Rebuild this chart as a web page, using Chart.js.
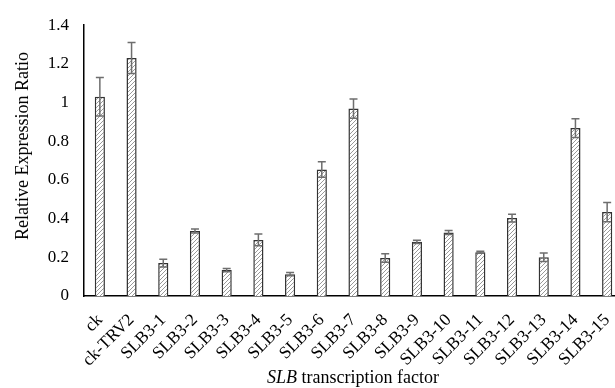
<!DOCTYPE html>
<html>
<head>
<meta charset="utf-8">
<script src="https://cdn.jsdelivr.net/npm/chart.js@4.4.1/dist/chart.umd.min.js"></script>
<style>
  html, body { margin:0; padding:0; background:#fff; overflow:hidden; width:615px; height:388px; }
  #wrap { position:relative; width:636px; height:388px; }
  .ttl { position:absolute; font:18px "Liberation Serif", "Times New Roman", serif; color:#000; white-space:nowrap; line-height:20px; }
  #xtitle { left:267px; top:367px; }
  #ytitle { left:22px; top:146px; transform:translate(-50%,-50%) rotate(-90deg); }
</style>
</head>
<body>
<div id="wrap">
  <canvas id="chart"></canvas>
  <div class="ttl" id="xtitle"><i>SLB</i> transcription factor</div>
  <div class="ttl" id="ytitle">Relative Expression Ratio</div>
</div>
<script>
const categories = ['ck','ck-TRV2','SLB3-1','SLB3-2','SLB3-3','SLB3-4','SLB3-5','SLB3-6','SLB3-7','SLB3-8','SLB3-9','SLB3-10','SLB3-11','SLB3-12','SLB3-13','SLB3-14','SLB3-15'];
const ratio  = [1.03, 1.23, 0.17, 0.336, 0.134, 0.29, 0.113, 0.654, 0.969, 0.197, 0.28, 0.328, 0.226, 0.403, 0.2, 0.868, 0.434];
const errors = [0.10, 0.08, 0.02, 0.01, 0.008, 0.03, 0.008, 0.04, 0.05, 0.022, 0.008, 0.01, 0.005, 0.02, 0.022, 0.048, 0.05];
const yTicks = ['0','0.2','0.4','0.6','0.8','1','1.2','1.4'];

// diagonal hatch fill
function hatch(){
  const c = document.createElement('canvas'); c.width = 4; c.height = 4;
  const g = c.getContext('2d');
  g.fillStyle = '#fff'; g.fillRect(0,0,4,4);
  g.strokeStyle = '#999'; g.lineWidth = 1;
  g.beginPath();
  g.moveTo(0,4); g.lineTo(4,0);
  g.moveTo(-1,1); g.lineTo(1,-1);
  g.moveTo(3,5); g.lineTo(5,3);
  g.stroke();
  return g.createPattern(c, 'repeat');
}

const errorBars = {
  id: 'errorBars',
  afterDatasetsDraw(chart){
    const ctx = chart.ctx, y = chart.scales.y;
    const meta = chart.getDatasetMeta(0);
    ctx.save();
    ctx.strokeStyle = '#6e6e6e'; ctx.lineWidth = 1.5;
    meta.data.forEach((bar, i) => {
      const top = y.getPixelForValue(ratio[i] + errors[i]);
      const bot = y.getPixelForValue(ratio[i] - errors[i]);
      ctx.beginPath();
      ctx.moveTo(bar.x, top); ctx.lineTo(bar.x, bot);
      ctx.moveTo(bar.x - 4, top); ctx.lineTo(bar.x + 4, top);
      ctx.moveTo(bar.x - 4, bot); ctx.lineTo(bar.x + 4, bot);
      ctx.stroke();
    });
    ctx.restore();
  }
};

const serif = '"Liberation Serif", "Times New Roman", serif';

new Chart(document.getElementById('chart'), {
  type: 'bar',
  data: { labels: categories, datasets: [{
    data: ratio,
    backgroundColor: hatch(),
    borderColor: '#333',
    borderWidth: 1.5,
    barPercentage: 0.32,
    categoryPercentage: 1
  }]},
  options: {
    responsive: true, maintainAspectRatio: false, animation: false,
    layout: { padding: { top: 23, left: 0, right: 0, bottom: 0 } },
    plugins: { legend: { display: false }, tooltip: { enabled: false } },
    scales: {
      x: {
        grid: { display: false, drawTicks: false },
        border: { display: true, color: '#000', width: 1.5 },
        ticks: { color: '#000', font: { family: serif, size: 17.5 }, maxRotation: 45, minRotation: 45, padding: 14, autoSkip: false },
        afterFit: s => { s.height = 92; }
      },
      y: {
        min: 0, max: 1.4,
        grid: { display: false, drawTicks: false },
        border: { display: true, color: '#000', width: 1.5 },
        ticks: { stepSize: 0.2, color: '#000', font: { family: serif, size: 17 }, padding: 15, callback: (v, i) => yTicks[i] },
        afterFit: s => { s.width = 84; }
      }
    }
  },
  plugins: [errorBars]
});
</script>
</body>
</html>
